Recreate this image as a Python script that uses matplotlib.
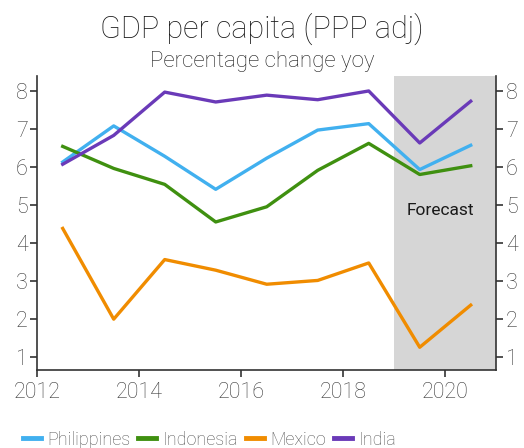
import matplotlib.pyplot as plt

plt.rcParams['font.family'] = ['Roboto', 'DejaVu Sans']

# data, mid-year points
years = [2012.5, 2013.5, 2014.5, 2015.5, 2016.5, 2017.5, 2018.5, 2019.5, 2020.5]
philippines = [6.13, 7.08, 6.28, 5.41, 6.23, 6.97, 7.14, 5.93, 6.57]
indonesia = [6.54, 5.96, 5.54, 4.55, 4.95, 5.91, 6.62, 5.80, 6.03]
mexico = [4.38, 1.99, 3.56, 3.28, 2.91, 3.01, 3.47, 1.25, 2.36]
india = [6.07, 6.83, 7.97, 7.71, 7.89, 7.77, 8.00, 6.63, 7.73]

series = [("Philippines", philippines, "#41b0ef"),
          ("Indonesia", indonesia, "#3f9010"),
          ("Mexico", mexico, "#f08c00"),
          ("India", india, "#6a3ab8")]

fig = plt.figure(figsize=(5.24, 4.48), dpi=100)
ax = fig.add_axes([0.071, 0.174, 0.876, 0.656])

# forecast zone
ax.axvspan(2019, 2021, color="#d6d6d6", lw=0, zorder=0)
ax.text(2019.9, 4.85, "Forecast", ha="center", va="center", fontsize=12.5, color="#1a1a1a")

for nome, vals, col in series:
    ax.plot(years, vals, color=col, lw=2.4, label=nome)

ax.set_xlim(2012, 2021)
ax.set_ylim(0.65, 8.39)
ax.set_xticks([2012, 2014, 2016, 2018, 2020])
ax.set_yticks(range(1, 9))

ax.spines["top"].set_visible(False)
for s in ["left", "right", "bottom"]:
    ax.spines[s].set_color("#333333")
    ax.spines[s].set_linewidth(1.2)
ax.tick_params(axis="both", direction="out", length=5, width=1.2, color="#333333",
               labelsize=15.5, labelcolor="#3a3a3a")
ax.tick_params(axis="y", left=True, right=True, labelleft=True, labelright=True, pad=2)

for lab in ax.get_xticklabels() + ax.get_yticklabels():
    lab.set_fontweight("light")

fig.text(0.5, 0.935, "GDP per capita (PPP adj)", ha="center", va="center",
         fontsize=22, fontweight="light", color="#1a1a1a")
fig.text(0.5, 0.862, "Percentage change yoy", ha="center", va="center",
         fontsize=16, fontweight="light", color="#1a1a1a")

leg = fig.legend(loc="lower left", bbox_to_anchor=(0.012, -0.038), ncol=4, frameon=False,
                 fontsize=13, handlelength=1.0, handletextpad=0.35, columnspacing=0.45)
for t in leg.get_texts():
    t.set_color("#555555")
    t.set_fontweight("light")
for h in leg.get_lines():
    h.set_linewidth(3.5)

fig.savefig("out.png", dpi=100)
